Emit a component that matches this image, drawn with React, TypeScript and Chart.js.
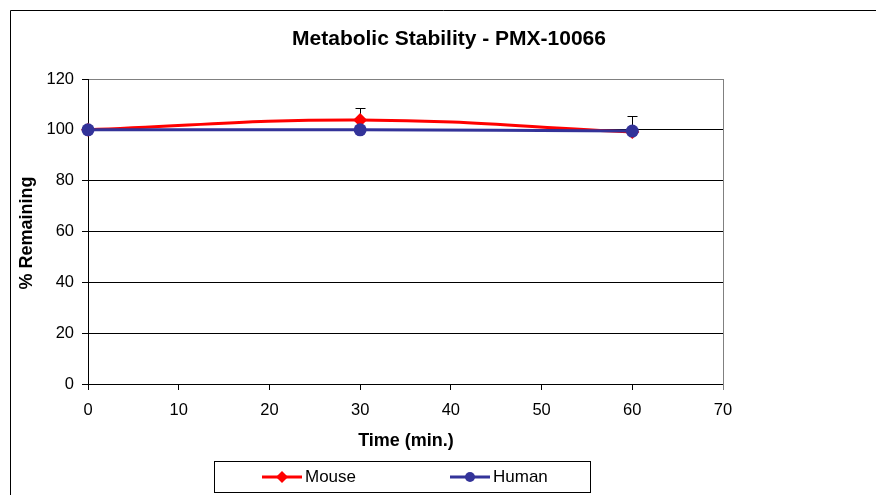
import React, { useEffect, useRef } from "react";
import { Chart, registerables } from "chart.js";

Chart.register(...registerables);

const chartTitle = "Metabolic Stability - PMX-10066";
const xTitle = "Time (min.)";
const yTitle = "% Remaining";
const timePoints = [0, 30, 60];
const mouseValues = [100, 103.9, 99.1];
const mouseErrors = [0, 4.7, 6.3];
const humanValues = [100, 100, 99.5];
const humanErrors = [0, 0, 0];
const seriesNames = ["Mouse", "Human"];
const RED = "#FF0000";
const NAVY = "#333399";
const FONT = "'Liberation Sans', Arial, sans-serif";

const errorBars = {
  id: "errorBars",
  beforeDatasetsDraw(chart: any) {
    const ctx = chart.ctx;
    const y = chart.scales.y;
    const x = chart.scales.x;
    const sets = [
      { v: mouseValues, e: mouseErrors },
      { v: humanValues, e: humanErrors },
    ];
    ctx.save();
    ctx.strokeStyle = "#000";
    ctx.lineWidth = 1;
    sets.forEach((s) => {
      timePoints.forEach((t, i) => {
        if (!s.e[i]) return;
        const px = Math.round(x.getPixelForValue(t)) + 0.5;
        const p0 = y.getPixelForValue(s.v[i]);
        const p1 = Math.round(y.getPixelForValue(s.v[i] + s.e[i])) + 0.5;
        ctx.beginPath();
        ctx.moveTo(px, p0);
        ctx.lineTo(px, p1);
        ctx.moveTo(px - 5, p1);
        ctx.lineTo(px + 5, p1);
        ctx.stroke();
      });
    });
    ctx.restore();
  },
};

const decorations = {
  id: "decorations",
  beforeDraw(chart: any) {
    const ctx = chart.ctx;
    ctx.save();
    ctx.fillStyle = "#fff";
    ctx.fillRect(0, 0, chart.width, chart.height);
    ctx.restore();
  },
  afterDraw(chart: any) {
    const ctx = chart.ctx;
    const a = chart.chartArea;
    ctx.save();
    // outer border
    ctx.strokeStyle = "#000";
    ctx.lineWidth = 1;
    ctx.beginPath();
    ctx.moveTo(10.5, chart.height + 2);
    ctx.lineTo(10.5, 10.5);
    ctx.lineTo(chart.width + 2, 10.5);
    ctx.stroke();
    // plot area right border
    ctx.strokeStyle = "#808080";
    ctx.beginPath();
    ctx.moveTo(Math.round(a.right) + 0.5, a.top);
    ctx.lineTo(Math.round(a.right) + 0.5, a.bottom + 6);
    ctx.stroke();
    // titles
    ctx.fillStyle = "#000";
    ctx.textAlign = "center";
    ctx.textBaseline = "middle";
    ctx.font = `bold 21px ${FONT}`;
    ctx.fillText(chartTitle, 449, 39);
    ctx.font = `bold 18px ${FONT}`;
    ctx.fillText(xTitle, 406, 441);
    ctx.save();
    ctx.translate(27, 233);
    ctx.rotate(-Math.PI / 2);
    ctx.fillText(yTitle, 0, 0);
    ctx.restore();
    // legend box
    ctx.strokeStyle = "#000";
    ctx.lineWidth = 1;
    ctx.strokeRect(214.5, 461.5, 376, 31);
    const ly = 477;
    const items = [
      { name: seriesNames[0], color: RED, shape: "diamond", x0: 262 },
      { name: seriesNames[1], color: NAVY, shape: "circle", x0: 450 },
    ];
    items.forEach((it) => {
      ctx.strokeStyle = it.color;
      ctx.fillStyle = it.color;
      ctx.lineWidth = 3;
      ctx.beginPath();
      ctx.moveTo(it.x0, ly);
      ctx.lineTo(it.x0 + 40, ly);
      ctx.stroke();
      const cx = it.x0 + 20;
      ctx.beginPath();
      if (it.shape === "diamond") {
        ctx.moveTo(cx, ly - 6);
        ctx.lineTo(cx + 6, ly);
        ctx.lineTo(cx, ly + 6);
        ctx.lineTo(cx - 6, ly);
        ctx.closePath();
      } else {
        ctx.arc(cx, ly, 5, 0, Math.PI * 2);
      }
      ctx.fill();
      ctx.fillStyle = "#000";
      ctx.font = `17px ${FONT}`;
      ctx.textAlign = "left";
      ctx.textBaseline = "middle";
      ctx.fillText(it.name, it.x0 + 43, ly);
    });
    ctx.restore();
  },
};

export default function App() {
  const ref = useRef<HTMLCanvasElement | null>(null);
  useEffect(() => {
    if (!ref.current) return;
    const chart = new Chart(ref.current, {
      type: "line",
      data: {
        datasets: [
          {
            label: seriesNames[0],
            data: timePoints.map((t, i) => ({ x: t, y: mouseValues[i] })),
            borderColor: RED,
            backgroundColor: RED,
            borderWidth: 3,
            pointStyle: "rectRot",
            pointRadius: 7,
            pointBorderWidth: 0,
            tension: 0.4,
            order: 1,
            clip: false as any,
          },
          {
            label: seriesNames[1],
            data: timePoints.map((t, i) => ({ x: t, y: humanValues[i] })),
            borderColor: NAVY,
            backgroundColor: NAVY,
            borderWidth: 3,
            pointStyle: "circle",
            pointRadius: 6.5,
            pointBorderWidth: 0,
            tension: 0.4,
            order: 0,
            clip: false as any,
          },
        ],
      },
      options: {
        responsive: false,
        animation: false,
        layout: { padding: { top: 79, right: 153, left: 0, bottom: 0 } },
        plugins: { legend: { display: false }, tooltip: { enabled: false }, title: { display: false } },
        scales: {
          x: {
            type: "linear",
            min: 0,
            max: 70,
            afterFit(scale: any) {
              scale.height = 111;
            },
            ticks: {
              stepSize: 10,
              color: "#000",
              padding: 11,
              font: { family: FONT, size: 16.5 },
            },
            grid: { drawOnChartArea: false, drawTicks: true, tickLength: 6, tickColor: "#000" },
            border: { display: true, color: "#000", width: 1 },
          },
          y: {
            min: 0,
            max: 120,
            afterFit(scale: any) {
              scale.width = 88;
            },
            ticks: {
              stepSize: 20,
              color: "#000",
              padding: 8,
              font: { family: FONT, size: 16.5 },
            },
            grid: {
              color: (c: any) => (c.tick && c.tick.value === 120 ? "#808080" : "#000"),
              drawTicks: true,
              tickLength: 6,
              tickColor: "#000",
            },
            border: { display: true, color: "#000", width: 1 },
          },
        },
      },
      plugins: [decorations, errorBars],
    });
    return () => chart.destroy();
  }, []);
  return (
    <div style={{ position: "fixed", left: 0, top: 0, width: 876, height: 495, background: "#fff" }}>
      <canvas ref={ref} width={876} height={495} style={{ display: "block", width: 876, height: 495 }} />
    </div>
  );
}
